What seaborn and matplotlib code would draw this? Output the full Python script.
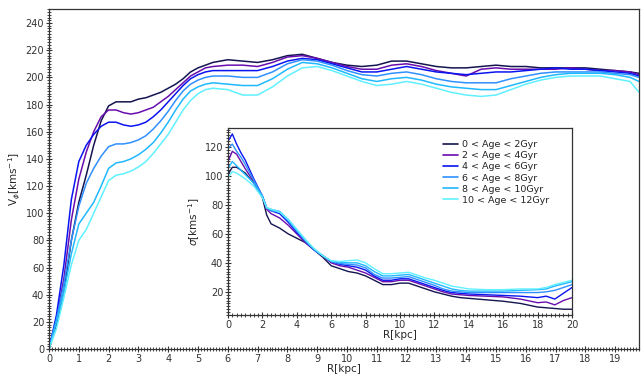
import numpy as np
import pandas as pd
import seaborn as sns
import matplotlib.pyplot as plt
from matplotlib.ticker import MultipleLocator

# --- Data ---

age_bins = ["0 < Age < 2Gyr", "2 < Age < 4Gyr", "4 < Age < 6Gyr",
            "6 < Age < 8Gyr", "8 < Age < 10Gyr", "10 < Age < 12Gyr"]
colors = ["#141450", "#6a0dad", "#0a14f0", "#3090ff", "#20b8ff", "#60f0ff"]

# rotation curve V_phi(R)
r_main = [0, 0.25, 0.5, 0.75, 1.0, 1.25, 1.5, 1.75, 2.0, 2.25, 2.5, 2.75, 3.0, 3.25, 3.5,
          3.75, 4.0, 4.25, 4.5, 4.75, 5.0, 5.25, 5.5, 6.0, 6.5, 7.0, 7.5, 8.0, 8.5, 9.0,
          9.5, 10.0, 10.5, 11.0, 11.5, 12.0, 12.5, 13.0, 13.5, 14.0, 14.5, 15.0, 15.5,
          16.0, 16.5, 17.0, 17.5, 18.0, 18.5, 19.0, 19.5, 19.8]
v_0_2 = [0, 18, 42, 80, 108, 128, 150, 168, 179, 182, 182, 182, 184, 185, 187,
         189, 192, 195, 199, 204, 207, 209, 211, 213, 212, 211, 213, 216, 217, 214,
         211, 209, 208, 209, 212, 212, 210, 208, 207, 207, 208, 209, 208,
         208, 207, 207, 207, 207, 206, 205, 204, 203]
v_2_4 = [0, 22, 52, 95, 125, 145, 160, 171, 176, 176, 174, 173, 174, 176, 178,
         182, 186, 191, 196, 201, 204, 207, 208, 209, 209, 208, 211, 215, 216, 214,
         211, 208, 206, 206, 209, 210, 208, 205, 203, 201, 206, 207, 206,
         206, 206, 206, 207, 206, 205, 205, 204, 202]
v_4_6 = [0, 25, 62, 110, 138, 150, 158, 164, 167, 167, 165, 164, 165, 167, 171,
         176, 182, 188, 194, 199, 202, 204, 205, 205, 205, 205, 208, 212, 214, 213,
         210, 207, 204, 204, 206, 208, 206, 204, 203, 202, 203, 204, 204,
         205, 206, 207, 206, 206, 205, 204, 203, 201]
v_6_8 = [0, 22, 48, 80, 105, 122, 133, 142, 149, 151, 151, 152, 154, 157, 162,
         168, 175, 183, 190, 195, 198, 200, 201, 201, 200, 200, 204, 210, 213, 212,
         209, 205, 202, 201, 203, 204, 202, 199, 197, 196, 196, 196, 199,
         201, 203, 204, 204, 204, 204, 203, 202, 200]
v_8_10 = [0, 20, 42, 70, 92, 100, 108, 120, 133, 137, 138, 140, 143, 147, 152,
          159, 167, 176, 184, 190, 193, 195, 196, 195, 194, 194, 199, 206, 211, 210,
          207, 203, 199, 197, 199, 200, 198, 195, 193, 192, 191, 191, 194,
          197, 200, 202, 203, 203, 203, 202, 200, 197]
v_10_12 = [0, 15, 38, 62, 80, 88, 100, 112, 124, 128, 129, 131, 134, 138, 144,
           151, 158, 167, 176, 183, 188, 191, 192, 191, 187, 187, 193, 201, 207, 208,
           205, 201, 197, 194, 195, 197, 195, 192, 189, 187, 186, 187, 191,
           195, 198, 200, 201, 201, 201, 199, 197, 189]

# velocity dispersion sigma(R), inset
r_inset = [0, 0.25, 0.5, 0.75, 1.0, 1.5, 2.0, 2.25, 2.5, 3.0, 3.5, 4.0, 4.5, 5.0, 5.5,
           6.0, 6.5, 7.0, 7.5, 8.0, 8.5, 9.0, 9.5, 10.0, 10.5, 11.0, 11.5, 12.0, 12.5,
           13.0, 13.5, 14.0, 15.0, 16.0, 17.0, 18.0, 18.5, 19.0, 19.5, 20.0]
s_0_2 = [101, 106, 106, 104, 102, 95, 85, 73, 67, 64, 60, 57, 54, 49, 44,
         38, 36, 34, 33, 31, 28, 25, 25, 26, 26, 24, 22, 20, 18.5,
         17, 16, 15.5, 14.5, 13.5, 12, 9.5, 9, 8.5, 8, 8]
s_2_4 = [110, 117, 115, 110, 105, 96, 86, 77, 74, 71, 66, 60, 54, 49, 45,
         40, 38, 37, 35, 33, 30, 27, 27, 28, 28, 26, 24, 22, 20,
         18.5, 18, 17.5, 17, 16.5, 15, 12.5, 13, 11, 14, 16]
s_4_6 = [124, 129, 122, 116, 111, 98, 86, 78, 76, 74, 68, 61, 55, 49, 45,
         41, 39, 38, 37, 35, 31, 28, 28, 29, 29, 27, 25, 23, 21,
         19.5, 19, 18.5, 18, 17.5, 17, 16, 17, 15, 19, 23]
s_6_8 = [119, 122, 117, 113, 108, 97, 86, 78, 76, 75, 69, 62, 55, 49, 45,
         41, 39.5, 39, 38.5, 36.5, 32, 29.5, 29.5, 30, 30.5, 28.5, 26.5, 24.5, 22,
         20.5, 20, 19.5, 19.5, 19.5, 19.5, 19.5, 20, 21, 23, 25]
s_8_10 = [105, 110, 107, 104, 101, 95, 86, 78, 77, 75.5, 70, 63, 56, 49.5, 45,
          41, 40.5, 40, 40, 38, 34, 31, 31, 31.5, 32, 30, 28, 26, 24,
          22, 21, 20.5, 20.5, 20.5, 21, 21.5, 22, 24, 25.5, 27]
s_10_12 = [99, 103, 102, 100, 98, 93, 85, 78, 77, 75, 70, 63, 56, 50, 45,
           41.5, 41, 41.5, 42, 40, 36, 32.5, 32.5, 33, 33.5, 31.5, 29.5, 28, 26,
           24, 23, 22, 21.5, 21.5, 22, 22, 23, 25, 26.5, 28]

v_series = [v_0_2, v_2_4, v_4_6, v_6_8, v_8_10, v_10_12]
s_series = [s_0_2, s_2_4, s_4_6, s_6_8, s_8_10, s_10_12]


def long_frame(r, series, col):
    rows = []
    for name, vals in zip(age_bins, series):
        for x, y in zip(r, vals):
            rows.append({"R": x, col: y, "age": name})
    return pd.DataFrame(rows)


df_v = long_frame(r_main, v_series, "V")
df_s = long_frame(r_inset, s_series, "sigma")

sns.set_style("ticks")
plt.rcParams["font.family"] = ["DejaVu Sans"]
plt.rcParams["axes.edgecolor"] = "#333333"
plt.rcParams["axes.linewidth"] = 0.9


def style_axis(a, xmaj, xmin):
    a.xaxis.set_major_locator(MultipleLocator(xmaj))
    a.xaxis.set_minor_locator(MultipleLocator(xmin))
    a.yaxis.set_major_locator(MultipleLocator(20))
    a.yaxis.set_minor_locator(MultipleLocator(2))
    a.tick_params(which="major", direction="inout", length=4, width=0.8, labelsize=7,
                  colors="#333333", pad=1.5)
    a.tick_params(which="minor", direction="inout", length=2.5, width=0.6)


fig = plt.figure(figsize=(6.43, 3.76), dpi=100)
ax = fig.add_axes([0.0762, 0.0718, 0.9176, 0.903])

sns.lineplot(data=df_v, x="R", y="V", hue="age", hue_order=age_bins, palette=colors,
             estimator=None, sort=False, linewidth=1.1, legend=False, ax=ax)
ax.set_xlim(0, 19.8)
ax.set_ylim(0, 250)
style_axis(ax, 1, 0.1)
ax.set_xlabel("R[kpc]", fontsize=7.5, labelpad=0)
ax.set_ylabel(r"V$_\phi$[kms$^{-1}$]", fontsize=7.5, labelpad=2)

# inset: velocity dispersion
axin = fig.add_axes([0.3546, 0.1622, 0.535, 0.497])
sns.lineplot(data=df_s, x="R", y="sigma", hue="age", hue_order=age_bins, palette=colors,
             estimator=None, sort=False, linewidth=1.0, ax=axin)
axin.set_xlim(0, 20)
axin.set_ylim(4, 133)
style_axis(axin, 2, 0.25)
axin.set_xlabel("R[kpc]", fontsize=7.5, labelpad=0)
axin.set_ylabel(r"$\sigma$[kms$^{-1}$]", fontsize=7.5, labelpad=2)

leg = axin.legend(loc="upper left", bbox_to_anchor=(0.615, 0.955), frameon=False,
                  fontsize=6.8, handlelength=1.5, handletextpad=0.5, labelspacing=0.22,
                  borderaxespad=0)
for line in leg.get_lines():
    line.set_linewidth(1.2)
for t in leg.get_texts():
    t.set_color("#222222")

fig.savefig("out.png", dpi=100)
